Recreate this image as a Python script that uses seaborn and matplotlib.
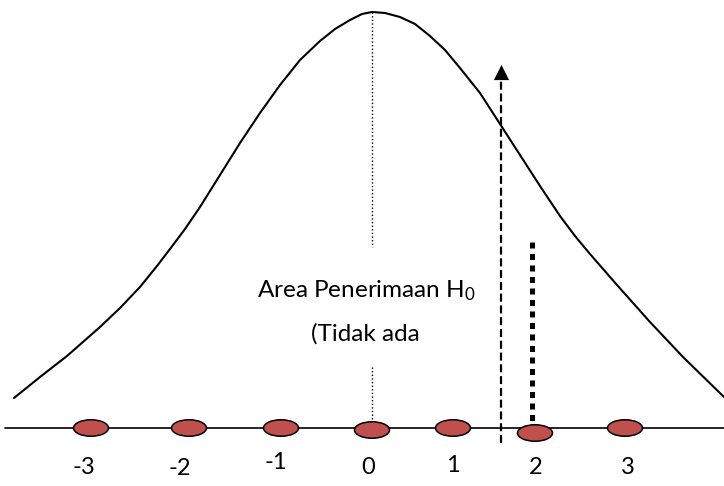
import matplotlib
matplotlib.use("Agg")
import matplotlib.pyplot as plt
from matplotlib.patches import Ellipse
import seaborn as sns
import pandas as pd

# Bell curve traced as (x, y) in diagram units (y grows downward)
curve_x = [14, 40, 67, 100, 120, 140, 157, 170, 185, 200, 220, 240, 260, 280,
           300, 320, 335, 350, 362, 372, 385, 400, 415, 430, 445, 460, 480,
           500, 520, 540, 560, 575, 590, 617, 650, 683, 724]
curve_y = [398, 377, 356, 327, 308, 287, 266, 249, 229, 207, 175, 143, 113, 85,
           60, 41, 29, 20, 14, 12, 13, 17, 24, 36, 50, 68, 93,
           124, 155, 186, 216, 236, 254, 285, 322, 357, 397]

# Z-score points on the baseline
z_labels = ["-3", "-2", "-1", "0", "1", "2", "3"]
z_mark_x = [91, 189, 281, 372, 453, 535, 625]
z_mark_y = [428, 428, 428, 430, 428, 433, 428]
z_label_x = [84, 180, 276, 368, 453, 536, 628]
z_label_y = [467, 468, 462, 467, 465, 467, 467]

# Reference lines
baseline_y = 428
mean_x = 372
critical_x = 501
statistic_x = 532

sns.set_theme(style="white")
plt.rcParams["font.family"] = ["Lato", "DejaVu Sans"]
plt.rcParams["mathtext.fontset"] = "custom"
plt.rcParams["mathtext.rm"] = "Lato"
plt.rcParams["mathtext.it"] = "Lato"

fig = plt.figure(figsize=(7.24, 4.86), dpi=100)
ax = fig.add_axes([0, 0, 1, 1])
ax.set_xlim(0, 724)
ax.set_ylim(486, 0)
ax.axis("off")

# Baseline
sns.lineplot(x=[5, 724], y=[baseline_y, baseline_y], ax=ax, color="black",
             lw=1.2, sort=False)

# Normal curve
curve = pd.DataFrame({"x": curve_x, "y": curve_y})
sns.lineplot(data=curve, x="x", y="y", ax=ax, color="black", lw=1.5,
             sort=False, estimator=None)

# Thin dotted line at the mean (interrupted by the caption)
peak_y = min(curve_y)
sns.lineplot(x=[mean_x, mean_x], y=[peak_y, 247], ax=ax, color="black",
             lw=1.0, linestyle=(0, (1, 1.6)), sort=False, estimator=None)
sns.lineplot(x=[mean_x, mean_x], y=[367, z_mark_y[3]], ax=ax, color="black",
             lw=1.0, linestyle=(0, (1, 1.6)), sort=False, estimator=None)

# Dashed critical line with arrow head
sns.lineplot(x=[critical_x, critical_x], y=[443, 80], ax=ax, color="black",
             lw=1.6, linestyle=(0, (3.6, 1.7)), sort=False, estimator=None)
ax.scatter([critical_x], [72], marker="^", s=120, color="black", zorder=5,
           linewidths=0)

# Heavy dotted line for the test statistic
sns.lineplot(x=[statistic_x, statistic_x], y=[242, 424], ax=ax, color="black",
             lw=3.6, linestyle=(0, (1.2, 1.1)), sort=False, estimator=None)

# Z-score markers
for mx, my in zip(z_mark_x, z_mark_y):
    ax.add_patch(Ellipse((mx, my), 35, 16.5, facecolor="#C0504D",
                         edgecolor="black", lw=1.1, zorder=6))

for lx, ly, lab in zip(z_label_x, z_label_y, z_labels):
    ax.text(lx, ly, lab, ha="center", va="center", fontsize=17, color="black")

ax.text(366, 291, r"Area Penerimaan H$_{\mathrm{0}}$", ha="center", va="center",
        fontsize=17.5, color="black")
ax.text(365, 334, "(Tidak ada", ha="center", va="center", fontsize=17.5,
        color="black")

fig.savefig("out.png", dpi=100)
